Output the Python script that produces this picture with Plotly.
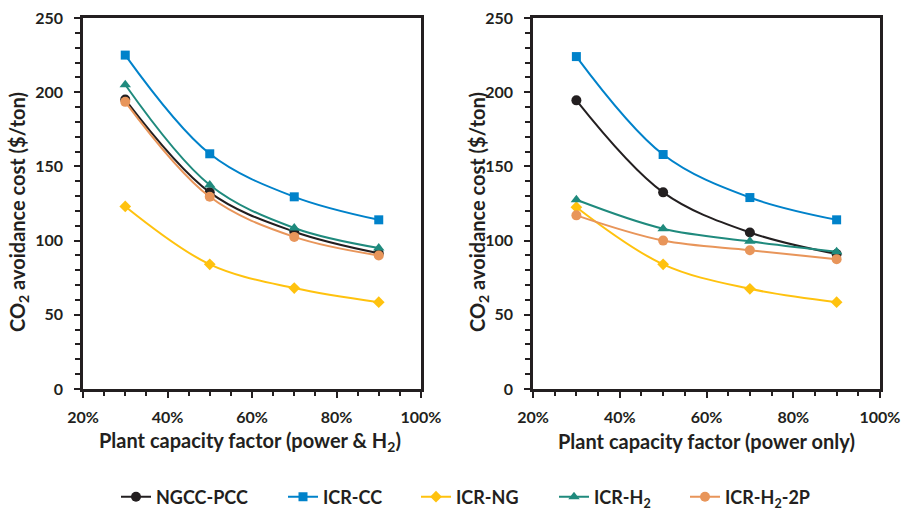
import plotly.graph_objects as go

# ---- data ----
capacity = [0.30, 0.50, 0.70, 0.90]
series_names = ["NGCC-PCC", "ICR-CC", "ICR-NG", "ICR-H<sub>2</sub>", "ICR-H<sub>2</sub>-2P"]

# Left panel: power & H2
left_ngcc = [195, 132.5, 106, 91.5]
left_icr_cc = [225, 158.5, 129.5, 114]
left_icr_ng = [123, 84, 68, 58.5]
left_icr_h2 = [205, 137.5, 108.5, 95]
left_icr_h2_2p = [193.5, 129.5, 102.5, 90]

# Right panel: power only
right_ngcc = [194.5, 132.5, 105.5, 91]
right_icr_cc = [224, 158, 129, 114]
right_icr_ng = [122.5, 84, 67.5, 58.5]
right_icr_h2 = [127.5, 108, 99.5, 92.5]
right_icr_h2_2p = [117, 100, 93.5, 87.5]

y_ticks = [0, 50, 100, 150, 200, 250]
x_ticks = [0.2, 0.4, 0.6, 0.8, 1.0]

colors = ["#231F20", "#0082CA", "#FFC20E", "#1F8A7D", "#E8955A"]
symbols = ["circle", "square", "diamond", "triangle-up", "circle"]
msizes = [10, 9, 9, 10, 10]

FONT = "Lato"
W, H = 901, 515

left_data = [left_ngcc, left_icr_cc, left_icr_ng, left_icr_h2, left_icr_h2_2p]
right_data = [right_ngcc, right_icr_cc, right_icr_ng, right_icr_h2, right_icr_h2_2p]

legend_ids = ["legend", "legend2", "legend3", "legend4", "legend5"]
legend_x_px = [116, 283, 416, 554, 685]

fig = go.Figure()
for i, name in enumerate(series_names):
    fig.add_trace(go.Scatter(
        x=capacity, y=left_data[i], name=name, mode="lines+markers",
        line=dict(color=colors[i], width=2, shape="spline", smoothing=1),
        marker=dict(symbol=symbols[i], size=msizes[i], color=colors[i]),
        xaxis="x", yaxis="y", legend=legend_ids[i], showlegend=True))
for i, name in enumerate(series_names):
    fig.add_trace(go.Scatter(
        x=capacity, y=right_data[i], name=name, mode="lines+markers",
        line=dict(color=colors[i], width=2, shape="spline", smoothing=1),
        marker=dict(symbol=symbols[i], size=msizes[i], color=colors[i]),
        xaxis="x2", yaxis="y2", showlegend=False))

def px(x):
    return x / W

def py(y):
    return 1 - y / H

axis_common = dict(
    showline=True, linewidth=2.5, linecolor="#231F20", mirror=True,
    ticks="outside", ticklen=6, tickwidth=2, tickcolor="#231F20",
    showgrid=False, zeroline=False, automargin=False,
    tickfont=dict(family=FONT, size=16, color="#231F20", weight="bold"),
)

xaxis_common = dict(axis_common, range=[0.2, 1.0], tickvals=x_ticks, tickformat=".0%",
                    minor=dict(dtick=0.05, ticks="outside", ticklen=4, tickwidth=2, tickcolor="#231F20"),
                    ticklabelstandoff=6)
yaxis_common = dict(axis_common, range=[0, 250], tickvals=y_ticks,
                    minor=dict(dtick=10, ticks="outside", ticklen=5, tickwidth=2, tickcolor="#231F20"),
                    ticklabelstandoff=8)

fig.update_layout(
    width=W, height=H,
    margin=dict(l=0, r=0, t=0, b=0, autoexpand=False),
    paper_bgcolor="white", plot_bgcolor="white",
    xaxis=dict(xaxis_common, domain=[px(83), px(421)], anchor="y"),
    yaxis=dict(yaxis_common, domain=[py(389), py(18)], anchor="x"),
    xaxis2=dict(xaxis_common, domain=[px(533), px(880)], anchor="y2"),
    yaxis2=dict(yaxis_common, domain=[py(389), py(18)], anchor="x2"),
    showlegend=True,
)
for i, lid in enumerate(legend_ids):
    fig.update_layout({lid: dict(
        orientation="h", x=px(legend_x_px[i]), xanchor="left", y=py(497), yanchor="middle",
        font=dict(family=FONT, size=18, color="#231F20", weight="bold"),
        itemwidth=30, bgcolor="rgba(0,0,0,0)", borderwidth=0)})

title_font = dict(family=FONT, size=20, color="#231F20", weight="bold")
ytitle = "CO<sub>2</sub> avoidance cost ($/ton)"
annotations = [
    dict(text=ytitle, x=px(18), y=py(212), xref="paper", yref="paper", textangle=-90,
         showarrow=False, font=title_font, xanchor="center", yanchor="middle"),
    dict(text=ytitle, x=px(478), y=py(212), xref="paper", yref="paper", textangle=-90,
         showarrow=False, font=title_font, xanchor="center", yanchor="middle"),
    dict(text="Plant capacity factor (power &amp; H<sub>2</sub>)", x=px(250), y=py(441), xref="paper", yref="paper",
         showarrow=False, font=title_font, xanchor="center", yanchor="middle"),
    dict(text="Plant capacity factor (power only)", x=px(706), y=py(441), xref="paper", yref="paper",
         showarrow=False, font=title_font, xanchor="center", yanchor="middle"),
]
fig.update_layout(annotations=annotations)

fig.write_html("out.html", config={"displayModeBar": False},
               post_script="document.body.style.margin='0';document.body.style.padding='0';")
